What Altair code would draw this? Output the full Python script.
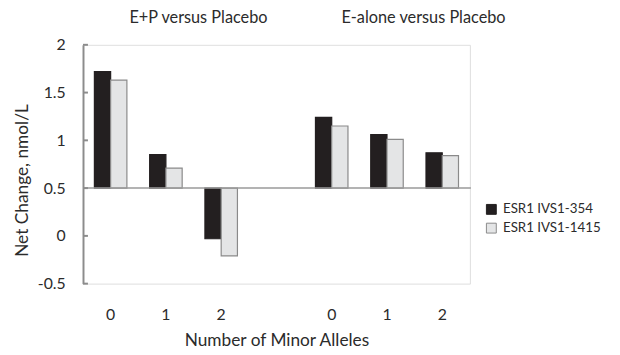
import altair as alt
import pandas as pd

slots = ["A0", "A1", "A2", "gap", "B0", "B1", "B2"]
groups = ["A0", "A1", "A2", "B0", "B1", "B2"]
series = ["ESR1 IVS1-354", "ESR1 IVS1-1415"]
snp354 = [1.72, 0.85, -0.03, 1.24, 1.06, 0.87]
snp1415 = [1.63, 0.71, -0.21, 1.15, 1.01, 0.84]
y_ticks = [-0.5, 0, 0.5, 1, 1.5, 2]
panel_titles = ["E+P versus Placebo", "E-alone versus Placebo"]

rows = []
for g, a, b in zip(groups, snp354, snp1415):
    rows.append({"slot": g, "series": series[0], "value": a})
    rows.append({"slot": g, "series": series[1], "value": b})
df = pd.DataFrame(rows)

FONT = "Lato"
TXT = "#2b2b2b"

x_enc = alt.X("slot:N", scale=alt.Scale(domain=slots, paddingInner=0, paddingOuter=0),
              axis=alt.Axis(title="Number of Minor Alleles", domain=False, ticks=False,
                            labelAngle=0, labelExpr="datum.value == 'gap' ? '' : substring(datum.value, 1)",
                            labelPadding=23, labelFontSize=16, titleFontSize=17.5,
                            titlePadding=10, labelColor=TXT, titleColor=TXT,
                            labelFont=FONT, titleFont=FONT, titleFontWeight="normal"))

legend = alt.Legend(title=None, orient="none", legendX=407, legendY=160,
                    symbolType="square", symbolSize=100, labelFontSize=13.5,
                    labelFont=FONT, labelColor=TXT, rowPadding=4,
                    symbolStrokeWidth=1, labelOffset=5)

bars = alt.Chart(df).mark_bar(strokeWidth=1.2).encode(
    x=x_enc,
    xOffset=alt.XOffset("series:N", sort=series,
                        scale=alt.Scale(paddingOuter=0.7, paddingInner=0)),
    y=alt.Y("value:Q", scale=alt.Scale(domain=[-0.5, 2], nice=False, zero=False),
            axis=alt.Axis(values=y_ticks, grid=False, tickSize=0, labelPadding=18,
                          labelExpr="'' + datum.value",
                          domainColor="#8c8c8c", domainWidth=2, labelFontSize=16,
                          titleFontSize=17.5, title="Net Change, nmol/L", titlePadding=6,
                          titleY=137,
                          labelColor=TXT, titleColor=TXT, labelFont=FONT, titleFont=FONT,
                          titleFontWeight="normal")),
    y2=alt.datum(0.5),
    fill=alt.Fill("series:N", sort=series,
                  scale=alt.Scale(domain=series, range=["#231f20", "#e4e5e6"]),
                  legend=legend),
    stroke=alt.Stroke("series:N", sort=series,
                      scale=alt.Scale(domain=series, range=["#231f20", "#8a8a8a"]),
                      legend=legend),
)

ticks = alt.Chart(pd.DataFrame({"t": y_ticks})).mark_rule(color="#8c8c8c", strokeWidth=2).encode(
    y="t:Q", x=alt.value(0), x2=alt.value(5)
)

base = alt.Chart(pd.DataFrame({"b": [0.5]})).mark_rule(color="#9a9a9a", strokeWidth=1.5).encode(
    y="b:Q", x=alt.value(0), x2=alt.value(393)
)

titles = alt.Chart(pd.DataFrame({"t": panel_titles, "px": [117, 345]})).mark_text(
    fontSize=16.5, font=FONT, color=TXT, align="center", baseline="middle"
).encode(text="t:N", x=alt.X("px:Q", scale=None), y=alt.value(-27))

chart = alt.layer(bars, base, ticks, titles).properties(
    width=392, height=242, autosize=alt.AutoSizeParams(type="none"),
    padding={"left": 76, "top": 35, "right": 144, "bottom": 70},
).configure_view(stroke=None).configure(background="white")

chart.save("out.html", embed_options={"renderer": "svg", "actions": False})
